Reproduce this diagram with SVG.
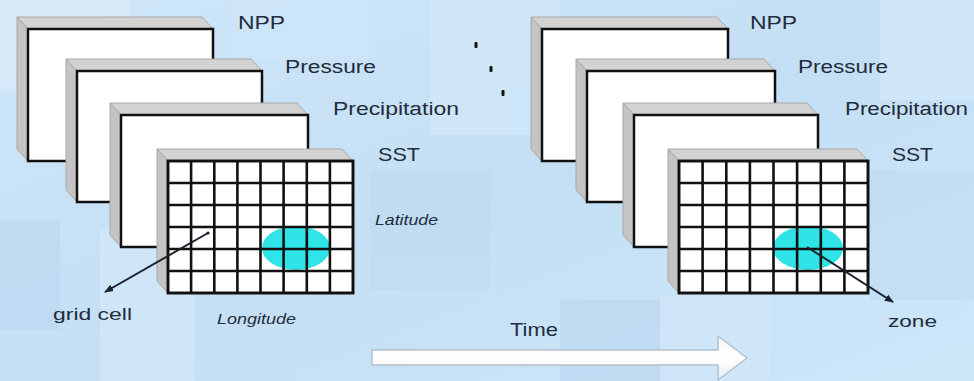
<svg xmlns="http://www.w3.org/2000/svg" width="974" height="381" viewBox="0 0 974 381">
<defs>
<linearGradient id="bg" x1="0" y1="0" x2="1" y2="1">
<stop offset="0" stop-color="#cfe6f8"/>
<stop offset="0.5" stop-color="#c4dff5"/>
<stop offset="1" stop-color="#cde6f8"/>
</linearGradient>
<linearGradient id="arrowFill" x1="0" y1="0" x2="0" y2="1">
<stop offset="0" stop-color="#f4f8fb"/>
<stop offset="0.5" stop-color="#ffffff"/>
<stop offset="1" stop-color="#e8eef3"/>
</linearGradient>
<marker id="ah" viewBox="0 0 10 10" refX="9" refY="5" markerWidth="9" markerHeight="9" orient="auto" markerUnits="userSpaceOnUse">
<path d="M0,1 L10,5 L0,9 Z" fill="#1a2232"/>
</marker>
<marker id="dot" viewBox="0 0 4 4" refX="2" refY="2" markerWidth="4" markerHeight="4" markerUnits="userSpaceOnUse">
<circle cx="2" cy="2" r="1.6" fill="#1a2232"/>
</marker>
<style>
.top{fill:#d2d2d2;stroke:#a8a8a8;stroke-width:1}
.side{fill:#c4c4c4;stroke:#a8a8a8;stroke-width:1}
.front{fill:#ffffff;stroke:#111111;stroke-width:2.5}
.grid{stroke:#111111;stroke-width:2.6;fill:none}
.zoneFill{fill:#2ee4e6}
.lbl{font-family:"Liberation Sans",Arial,sans-serif;fill:#222c3c}
.big{font-size:19px}
.med{font-size:18px}
.sm{font-size:17px}
.it{font-size:14px;font-style:italic}
.conn{stroke:#1a2232;stroke-width:2;fill:none}
.dotm{fill:#111111}
</style>
</defs>

<!-- background -->
<rect x="0" y="0" width="974" height="381" fill="url(#bg)"/>
<g opacity="0.55">
<rect x="0" y="0" width="130" height="90" fill="#dcedfb"/>
<rect x="0" y="220" width="60" height="110" fill="#b9d8f2"/>
<rect x="100" y="230" width="95" height="151" fill="#d8ecfa"/>
<rect x="430" y="0" width="130" height="135" fill="#d6ebfb"/>
<rect x="370" y="170" width="120" height="120" fill="#bcdaf2"/>
<rect x="560" y="300" width="100" height="81" fill="#b7d6f0"/>
<rect x="660" y="295" width="110" height="86" fill="#d4e9fa"/>
<rect x="880" y="0" width="94" height="100" fill="#d8ecfb"/>
<rect x="870" y="170" width="104" height="130" fill="#c0dcf3"/>
<rect x="0" y="330" width="100" height="51" fill="#c8e2f7"/>
<rect x="230" y="0" width="140" height="60" fill="#d0e7f9"/>
</g>

<!-- left stack -->
<g id="left-npp">
<polygon class="top" points="17,17 202,17 213,29 28,29"/>
<polygon class="side" points="17,17 28,29 28,161 17,149"/>
<rect class="front" x="28" y="29" width="185" height="132"/>
</g>
<g id="left-pressure">
<polygon class="top" points="66,59 251,59 262,71 77,71"/>
<polygon class="side" points="66,59 77,71 77,202 66,190"/>
<rect class="front" x="77" y="71" width="185" height="131"/>
</g>
<g id="left-precipitation">
<polygon class="top" points="110,103 297,103 308,115 121,115"/>
<polygon class="side" points="110,103 121,115 121,247 110,235"/>
<rect class="front" x="121" y="115" width="187" height="132"/>
</g>
<g id="left-sst">
<polygon class="top" points="157,149 342,149 353,161 168,161"/>
<polygon class="side" points="157,149 168,161 168,293 157,281"/>
<rect class="front" x="168" y="161" width="185" height="132"/>
<ellipse class="zoneFill" cx="296" cy="248" rx="34" ry="22"/>
<path class="grid" d="M191.1,161V293M214.3,161V293M237.4,161V293M260.5,161V293M283.6,161V293M306.8,161V293M329.9,161V293M168,183H353M168,205H353M168,227H353M168,249H353M168,271H353"/>
<rect x="168" y="161" width="185" height="132" fill="none" stroke="#111" stroke-width="2.6"/>
</g>

<!-- right stack -->
<g id="right-npp">
<polygon class="top" points="531,17 717,17 728,29 542,29"/>
<polygon class="side" points="531,17 542,29 542,161 531,149"/>
<rect class="front" x="542" y="29" width="186" height="132"/>
</g>
<g id="right-pressure">
<polygon class="top" points="576,59 764,59 775,71 587,71"/>
<polygon class="side" points="576,59 587,71 587,202 576,190"/>
<rect class="front" x="587" y="71" width="188" height="131"/>
</g>
<g id="right-precipitation">
<polygon class="top" points="623,103 807,103 818,115 634,115"/>
<polygon class="side" points="623,103 634,115 634,247 623,235"/>
<rect class="front" x="634" y="115" width="184" height="132"/>
</g>
<g id="right-sst">
<polygon class="top" points="668,149 857,149 868,161 679,161"/>
<polygon class="side" points="668,149 679,161 679,293 668,281"/>
<rect class="front" x="679" y="161" width="189" height="132"/>
<ellipse class="zoneFill" cx="808" cy="248" rx="35" ry="22"/>
<path class="grid" d="M702.6,161V293M726.3,161V293M749.9,161V293M773.5,161V293M797.1,161V293M820.8,161V293M844.4,161V293M679,183H868M679,205H868M679,227H868M679,249H868M679,271H868"/>
<rect x="679" y="161" width="189" height="132" fill="none" stroke="#111" stroke-width="2.6"/>
</g>

<!-- ellipsis dots -->
<g id="ellipsis">
<rect class="dotm" x="474.5" y="42" width="3" height="6" rx="1"/>
<rect class="dotm" x="489.5" y="66" width="3" height="6" rx="1"/>
<rect class="dotm" x="501.5" y="90" width="3" height="6" rx="1"/>
</g>

<!-- connectors -->
<g id="connectors">
<line class="conn" x1="208" y1="233" x2="105" y2="292" marker-start="url(#dot)" marker-end="url(#ah)"/>
<line class="conn" x1="807" y1="247" x2="893" y2="302" marker-end="url(#ah)"/>
</g>

<!-- time arrow -->
<g id="time-arrow">
<polygon points="372,350 718,350 718,336 747,358 718,380 718,365 372,365" fill="url(#arrowFill)" stroke="#b4c0ca" stroke-width="1.5" stroke-linejoin="round"/>
</g>

<!-- labels -->
<g id="labels">
<text class="lbl big" x="238" y="29" textLength="47" lengthAdjust="spacingAndGlyphs">NPP</text>
<text class="lbl med" x="285" y="73" textLength="91" lengthAdjust="spacingAndGlyphs">Pressure</text>
<text class="lbl med" x="333" y="115" textLength="126" lengthAdjust="spacingAndGlyphs">Precipitation</text>
<text class="lbl big" x="378" y="161" textLength="42" lengthAdjust="spacingAndGlyphs">SST</text>
<text class="lbl it" x="375" y="225" textLength="63" lengthAdjust="spacingAndGlyphs">Latitude</text>
<text class="lbl it" x="217" y="324" textLength="79" lengthAdjust="spacingAndGlyphs">Longitude</text>
<text class="lbl sm" x="53" y="320" textLength="79" lengthAdjust="spacingAndGlyphs">grid cell</text>
<text class="lbl big" x="750" y="29" textLength="47" lengthAdjust="spacingAndGlyphs">NPP</text>
<text class="lbl med" x="798" y="73" textLength="90" lengthAdjust="spacingAndGlyphs">Pressure</text>
<text class="lbl med" x="845" y="115" textLength="123" lengthAdjust="spacingAndGlyphs">Precipitation</text>
<text class="lbl big" x="892" y="161" textLength="41" lengthAdjust="spacingAndGlyphs">SST</text>
<text class="lbl sm" x="888" y="327" textLength="49" lengthAdjust="spacingAndGlyphs">zone</text>
<text class="lbl big" x="510" y="336" textLength="48" lengthAdjust="spacingAndGlyphs">Time</text>
</g>
</svg>
